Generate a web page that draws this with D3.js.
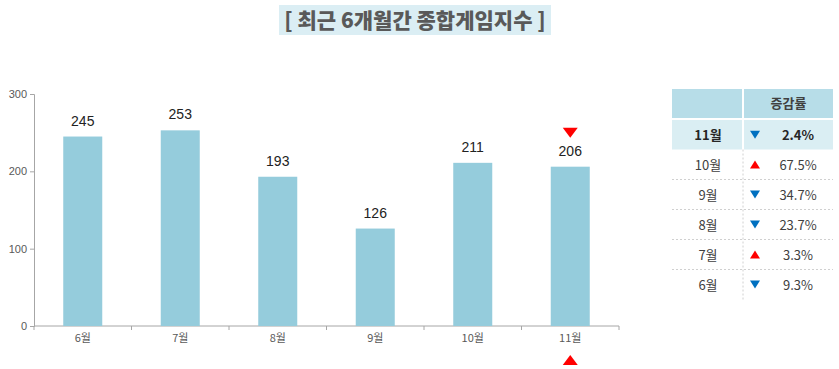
<!DOCTYPE html>
<html>
<head>
<meta charset="utf-8">
<script src="https://cdn.jsdelivr.net/npm/d3@7"></script>
<style>
  html, body { margin: 0; padding: 0; background: #fff; }
  svg { display: block; }
</style>
</head>
<body>
<svg id="chart" width="839" height="369"></svg>
<script>
// Monthly composite game index, last six months
const months = ["6월", "7월", "8월", "9월", "10월", "11월"];
const indexValues = [245, 253, 193, 126, 211, 206];
// Month-over-month change (%), sign gives direction
const changeRates = [-9.3, 3.3, -23.7, -34.7, 67.5, -2.4];
const yTicks = [0, 100, 200, 300];
const titleText = "[ 최근 6개월간 종합게임지수 ]";
const tableHeader = "증감률";

const svg = d3.select("#chart");
const numFont = "'Liberation Sans', Arial, 'Noto Sans CJK KR', sans-serif";
const krFont = "'Noto Sans CJK KR', 'Noto Sans', sans-serif";
const UP = "#ff0000", DOWN = "#0070c0";

// Title banner
const titleG = svg.append("g");
titleG.append("rect")
  .attr("x", 279).attr("y", 5).attr("width", 272).attr("height", 30)
  .attr("fill", "#dbeef4");
titleG.append("text")
  .attr("x", 415).attr("y", 28)
  .attr("text-anchor", "middle")
  .attr("font-family", krFont).attr("font-weight", 900)
  .attr("font-size", 21).attr("fill", "#595959")
  .text(titleText);

// Bar chart
const x = d3.scaleBand().domain(months).range([34, 619]).padding(0);
const y = d3.scaleLinear().domain([0, 300]).range([326, 94]);
const barW = x.bandwidth() * 0.4;

const yAxis = svg.append("g")
  .attr("transform", "translate(34,0)")
  .call(d3.axisLeft(y).tickValues(yTicks).tickSize(4).tickPadding(3));
yAxis.select(".domain").attr("stroke", "#a6a6a6");
yAxis.selectAll(".tick line").attr("stroke", "#a6a6a6");
yAxis.selectAll(".tick text")
  .attr("font-family", numFont).attr("font-size", 11).attr("fill", "#595959");

// Category axis with ticks at band boundaries
const xAxisG = svg.append("g").attr("transform", "translate(0,326)");
xAxisG.append("line")
  .attr("x1", 34).attr("x2", 619).attr("stroke", "#a6a6a6");
xAxisG.selectAll("line.tk")
  .data(months.map(m => x(m) + x.bandwidth()).concat([x(months[0])]))
  .join("line").attr("class", "tk")
  .attr("x1", d => d).attr("x2", d => d)
  .attr("y1", 0).attr("y2", 4).attr("stroke", "#a6a6a6");
xAxisG.selectAll("text")
  .data(months).join("text")
  .attr("x", d => x(d) + x.bandwidth() / 2)
  .attr("y", 16)
  .attr("text-anchor", "middle")
  .attr("font-family", krFont).attr("font-size", 11).attr("fill", "#595959")
  .text(d => d);

svg.append("g").selectAll("rect")
  .data(indexValues).join("rect")
  .attr("x", (d, i) => x(months[i]) + (x.bandwidth() - barW) / 2)
  .attr("y", d => y(d))
  .attr("width", barW)
  .attr("height", d => y(0) - y(d))
  .attr("fill", "#95ccdc");

svg.append("g").selectAll("text")
  .data(indexValues).join("text")
  .attr("x", (d, i) => x(months[i]) + x.bandwidth() / 2)
  .attr("y", d => y(d) - 11)
  .attr("text-anchor", "middle")
  .attr("font-family", numFont).attr("font-size", 14).attr("fill", "#222")
  .text(d => d);

// Highlight markers for the latest month
const last = months.length - 1;
const lastCx = x(months[last]) + x.bandwidth() / 2;
const tri = (cx, cy, w, h, down) => down
  ? `M${cx - w / 2},${cy - h / 2}L${cx + w / 2},${cy - h / 2}L${cx},${cy + h / 2}Z`
  : `M${cx - w / 2},${cy + h / 2}L${cx + w / 2},${cy + h / 2}L${cx},${cy - h / 2}Z`;
svg.append("path")
  .attr("d", tri(lastCx, y(indexValues[last]) - 34, 15, 10, true))
  .attr("fill", UP);
svg.append("path")
  .attr("d", tri(lastCx, 360, 15, 10, false))
  .attr("fill", UP);

// Change-rate table
const tX0 = 672, tX1 = 742, tX2 = 744, tX3 = 833;
const tbl = svg.append("g");
tbl.append("rect").attr("x", tX0).attr("y", 89).attr("width", tX1 - tX0).attr("height", 29).attr("fill", "#b7dde8");
tbl.append("rect").attr("x", tX2).attr("y", 89).attr("width", tX3 - tX2).attr("height", 29).attr("fill", "#b7dde8");
tbl.append("text")
  .attr("x", (tX2 + tX3) / 2).attr("y", 108)
  .attr("text-anchor", "middle")
  .attr("font-family", krFont).attr("font-weight", 700)
  .attr("font-size", 13).attr("fill", "#404040")
  .text(tableHeader);

const rows = months.map((m, i) => ({ m, r: changeRates[i] })).reverse();
const rowTop = i => i === 0 ? 120 : 149.5 + (i - 1) * 30;
const rowH = i => i === 0 ? 29.5 : 30;

rows.forEach((d, i) => {
  const top = rowTop(i), h = rowH(i), cy = top + h / 2;
  if (i === 0) {
    tbl.append("rect").attr("x", tX0).attr("y", top).attr("width", tX1 - tX0).attr("height", h).attr("fill", "#daeef3");
    tbl.append("rect").attr("x", tX2).attr("y", top).attr("width", tX3 - tX2).attr("height", h).attr("fill", "#daeef3");
  } else if (i < rows.length - 1) {
    tbl.append("line")
      .attr("x1", tX0).attr("x2", tX3)
      .attr("y1", top + h).attr("y2", top + h)
      .attr("stroke", "#d0d0d0").attr("stroke-dasharray", "2,2");
  }
  tbl.append("text")
    .attr("x", (tX0 + tX1) / 2 + 1).attr("y", cy + 5)
    .attr("text-anchor", "middle")
    .attr("font-family", krFont).attr("font-weight", i === 0 ? 700 : 400)
    .attr("font-size", 13).attr("fill", i === 0 ? "#262626" : "#404040")
    .text(d.m);
  tbl.append("path")
    .attr("d", tri(755, cy, 10, 8, d.r < 0))
    .attr("fill", d.r < 0 ? DOWN : UP);
  tbl.append("text")
    .attr("x", 798).attr("y", cy + 5)
    .attr("text-anchor", "middle")
    .attr("font-family", krFont).attr("font-weight", i === 0 ? 700 : 400)
    .attr("font-size", 13).attr("fill", i === 0 ? "#262626" : "#404040")
    .text(Math.abs(d.r).toFixed(1) + "%");
});
// Vertical dotted divider below the highlighted row
tbl.append("line")
  .attr("x1", 743).attr("x2", 743)
  .attr("y1", 149.5).attr("y2", 300)
  .attr("stroke", "#d0d0d0").attr("stroke-dasharray", "2,2");
</script>
</body>
</html>
